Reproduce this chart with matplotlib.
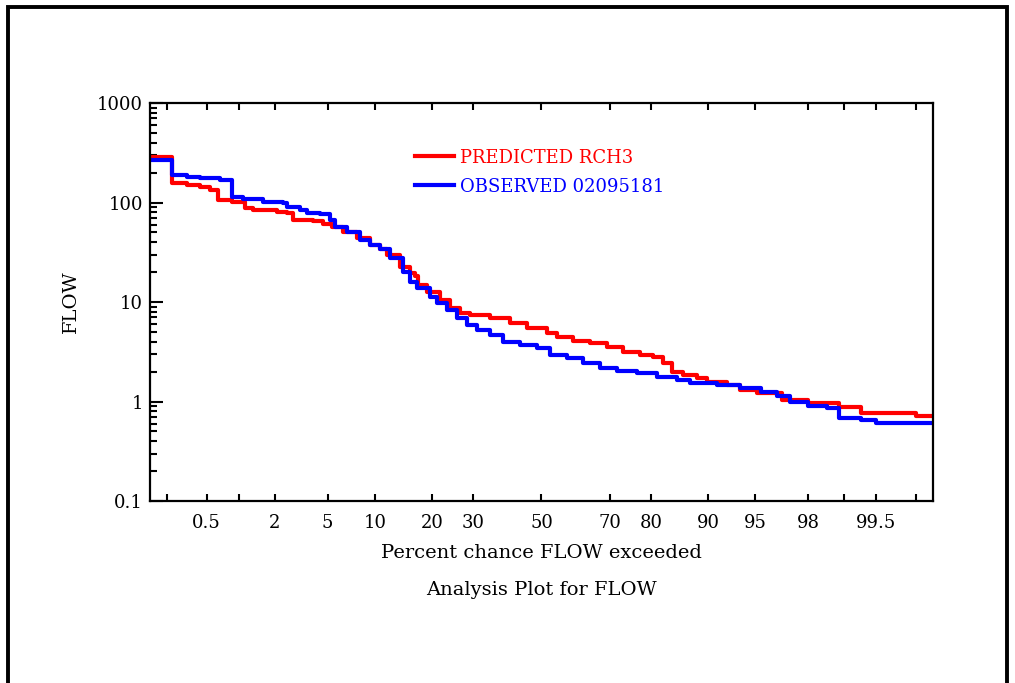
import matplotlib
matplotlib.use("Agg")
import matplotlib.pyplot as plt
from matplotlib.patches import Rectangle
from matplotlib.ticker import FixedLocator, NullFormatter, LogLocator
from statistics import NormalDist
import numpy as np

# percent chance exceeded / flow (step curves)
red_pct = [0.13, 0.222, 0.318, 0.428, 0.536, 0.638, 0.86, 1.12, 1.32, 2.09, 2.5, 2.79, 3.93, 4.63,
           5.34, 6.32, 7.78, 9.34, 10.7, 11.7, 13.8, 15.6, 16.5, 17.1, 18.9, 21.7, 24.1, 26.5,
           29.1, 34.6, 40.4, 45.6, 51.7, 54.7, 59.6, 64.6, 69.3, 73.5, 77.6, 80.5, 82.5, 84.2,
           86.2, 88.4, 89.9, 92.3, 93.7, 95.1, 96.8, 98.0, 98.9, 99.3, 99.8, 99.87]
red_flow = [287, 157, 150, 143, 134, 106, 101, 88.0, 84.1, 80.3, 78.4, 66.7, 65.2, 60.8,
            56.7, 50.5, 44.0, 37.4, 34.1, 29.7, 22.5, 19.6, 18.3, 14.8, 12.6, 10.5, 8.7, 7.75,
            7.4, 6.91, 6.15, 5.48, 4.88, 4.45, 4.06, 3.87, 3.53, 3.14, 2.93, 2.8, 2.44, 1.98,
            1.85, 1.72, 1.57, 1.46, 1.3, 1.22, 1.04, 0.966, 0.88, 0.766, 0.715, 0.715]

blue_pct = [0.13, 0.222, 0.318, 0.428, 0.666, 0.86, 1.08, 1.6, 2.33, 2.5, 3.15, 3.55, 4.41, 5.17,
            5.6, 6.72, 8.12, 9.34, 10.7, 12.2, 14.3, 15.6, 16.9, 19.5, 21.1, 23.3, 25.8, 28.3,
            31.0, 34.6, 38.3, 43.4, 48.6, 52.6, 57.8, 62.5, 67.4, 71.9, 76.9, 81.3, 85.2, 87.4,
            91.2, 93.7, 95.4, 96.5, 97.2, 98.0, 98.6, 98.9, 99.3, 99.5, 99.87]
blue_flow = [267, 189, 180, 176, 168, 114, 108, 101, 98.8, 90.1, 84.1, 78.4, 76.6, 66.7,
             56.7, 50.5, 42.0, 37.4, 34.1, 27.7, 20.0, 15.9, 13.8, 11.2, 9.77, 8.31, 6.91, 5.87,
             5.23, 4.66, 3.96, 3.7, 3.45, 2.93, 2.74, 2.44, 2.17, 2.03, 1.93, 1.76, 1.64, 1.53,
             1.46, 1.37, 1.25, 1.14, 0.988, 0.901, 0.86, 0.683, 0.652, 0.608, 0.608]

x_ticks = [0.5, 2, 5, 10, 20, 30, 50, 70, 80, 90, 95, 98, 99.5]
x_minor = [0.2, 1, 99, 99.8]
y_ticks = [0.1, 1, 10, 100, 1000]

nd = NormalDist()
_ppf = np.vectorize(lambda p: nd.inv_cdf(min(max(p / 100.0, 1e-9), 1 - 1e-9)))
_cdf = np.vectorize(lambda z: nd.cdf(z) * 100.0)


def forward(p):
    return _ppf(np.asarray(p, dtype=float))


def inverse(z):
    return _cdf(np.asarray(z, dtype=float))


plt.rcParams['font.family'] = ['DejaVu Serif']

fig = plt.figure(figsize=(10.15, 6.83), dpi=100)
ax = fig.add_axes([150 / 1015, 1 - 501 / 683, 783 / 1015, 398 / 683])

ax.plot(red_pct, red_flow, drawstyle='steps-post', color='#ff0000', lw=3, label='PREDICTED RCH3')
ax.plot(blue_pct, blue_flow, drawstyle='steps-post', color='#0000ff', lw=3, label='OBSERVED 02095181')

# probability (normal) scale on x, log on y
ax.set_xscale('function', functions=(forward, inverse))
ax.set_yscale('log')
ax.set_xlim(0.13, 99.87)
ax.set_ylim(0.1, 1000)

ax.xaxis.set_major_locator(FixedLocator(x_ticks))
ax.set_xticklabels([f"{t:g}" for t in x_ticks])
ax.xaxis.set_minor_locator(FixedLocator(x_minor))
ax.xaxis.set_minor_formatter(NullFormatter())
ax.tick_params(axis='x', which='both', direction='in', length=5, width=1.5,
               top=True, bottom=True, labelsize=13, pad=9)

ax.yaxis.set_major_locator(FixedLocator(y_ticks))
ax.set_yticklabels([f"{t:g}" for t in y_ticks])
ax.yaxis.set_minor_locator(LogLocator(base=10, subs=np.arange(2, 10)))
ax.yaxis.set_minor_formatter(NullFormatter())
ax.tick_params(axis='y', which='major', direction='in', length=9, width=1.5,
               left=True, right=False, labelsize=13, pad=5)
ax.tick_params(axis='y', which='minor', direction='in', length=5, width=1.5,
               left=True, right=False)

for s in ax.spines.values():
    s.set_linewidth(1.6)

ax.set_xlabel('Percent chance FLOW exceeded', fontsize=14)
ax.xaxis.set_label_coords(0.5, -0.108)
ax.set_ylabel('FLOW', fontsize=14)
ax.yaxis.set_label_coords(-0.089, 0.5)
fig.text(541 / 1015, 1 - 590 / 683, 'Analysis Plot for FLOW', fontsize=14, ha='center', va='center')

ax.legend(loc='upper left', bbox_to_anchor=(0.338, 0.885), frameon=False, fontsize=13,
          handlelength=2.2, handletextpad=0.3, labelspacing=0.6, borderpad=0,
          borderaxespad=0, labelcolor='linecolor')

# outer frame of the page
fig.patches.append(Rectangle((8 / 1015, -0.1), 999 / 1015, 1.1 - 7 / 683, transform=fig.transFigure,
                             fill=False, edgecolor='black', lw=2.8, zorder=10))

fig.savefig('out.png')
